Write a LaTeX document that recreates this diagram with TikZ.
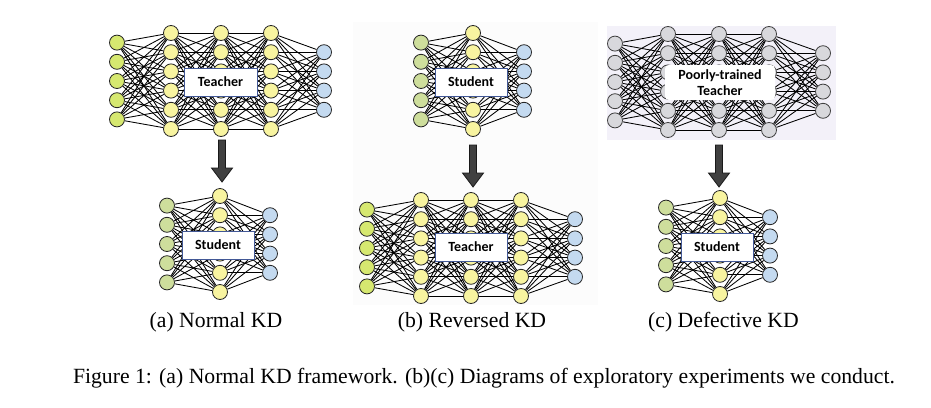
\documentclass[tikz,border=0pt]{standalone}
\usepackage{fontspec}
\setmainfont{Liberation Serif}
\newfontfamily\boxfont{Carlito}
\pgfdeclarelayer{bg}\pgfdeclarelayer{edges}\pgfdeclarelayer{fg}
\pgfsetlayers{bg,edges,main,fg}
\definecolor{ingreen}{RGB}{214,232,112}
\definecolor{insgreen}{RGB}{206,222,156}
\definecolor{hidyel}{RGB}{248,244,160}
\definecolor{outblue}{RGB}{196,218,240}
\definecolor{neurgrey}{RGB}{216,216,220}
\definecolor{boxblue}{RGB}{66,88,150}
\definecolor{lav}{RGB}{243,241,249}
\definecolor{pale}{RGB}{252,252,252}
\definecolor{arrfill}{RGB}{64,64,64}
\tikzset{
  neuron/.style={circle,draw=black!85,line width=0.8pt,minimum size=15pt,inner sep=0pt},
  inT/.style={fill=ingreen},
  inS/.style={fill=insgreen},
  hid/.style={fill=hidyel},
  outp/.style={fill=outblue},
  gry/.style={fill=neurgrey,draw=black!75},
  synapse/.style={draw=black,line width=0.85pt},
  labelbox/.style={draw=boxblue,line width=0.9pt,fill=white,minimum width=72pt,minimum height=28pt,inner sep=0pt,font=\boxfont\bfseries\fontsize{14}{15}\selectfont},
  softbox/.style={fill=white,rounded corners=4pt,minimum width=110pt,minimum height=35pt,inner sep=0pt,align=center,font=\boxfont\bfseries\fontsize{14}{16}\selectfont},
  bigarrow/.style={fill=arrfill,draw=black!90,line width=0.8pt,line join=miter},
  subcap/.style={font=\fontsize{21.7}{25}\selectfont,inner sep=0pt},
  figcap/.style={font=\fontsize{21.7}{25}\selectfont,inner sep=0pt}
}
\newcommand{\mynet}[3]{%
 \foreach \xx/\nn/\sty [count=\li, remember=\nn as \pn (initially 0)] in {#3} {%
   \foreach \k in {1,...,\nn} {%
     \node[neuron,\sty] (#1-\li-\k) at (\xx,{#2+(\k-(\nn+1)/2)*19.2}) {};
   }%
   \ifnum\li>1
     \pgfmathtruncatemacro\pl{\li-1}%
     \begin{pgfonlayer}{edges}
       \foreach \a in {1,...,\pn} {\foreach \b in {1,...,\nn} {\draw[synapse] (#1-\pl-\a) -- (#1-\li-\b);}}
     \end{pgfonlayer}
   \fi
 }%
}
\newcommand{\blockarrow}[1]{%
  \draw[bigarrow] (#1) ++(-3.5,0) -- ++(7,0) -- ++(0,28) -- ++(7,0) -- ++(-10.5,14) -- ++(-10.5,-14) -- ++(7,0) -- cycle;
}
\begin{document}
\begin{tikzpicture}[x=1pt,y=-1pt]
\useasboundingbox (0,0) rectangle (931,407);
\begin{pgfonlayer}{bg}
  \fill[white] (0,0) rectangle (931,407);
  \fill[pale] (353,22) rectangle (598,305);
  \fill[lav] (607,26) rectangle (836,140);
\end{pgfonlayer}

% (a) Normal KD
\mynet{ta}{81}{117/5/inT,171/6/hid,221/6/hid,271/6/hid,324/4/outp}
\mynet{sa}{244}{167/5/inS,220/6/hid,270/4/outp}
% (b) Reversed KD
\mynet{sb}{81}{421/5/inS,473/6/hid,524/4/outp}
\mynet{tb}{248}{367/5/inT,421/6/hid,471/6/hid,521/6/hid,575/4/outp}
% (c) Defective KD
\mynet{tc}{82}{615/5/gry,668/6/gry,719/6/gry,769/6/gry,823/4/gry}
\mynet{sc}{246}{666/5/inS,720/6/hid,770/4/outp}

\begin{pgfonlayer}{fg}
  \node[labelbox,minimum width=73pt] (taBox) at (220.5,82) {Teacher};
  \node[labelbox] (saBox) at (218,245) {Student};
  \node[labelbox] (sbBox) at (471,82) {Student};
  \node[labelbox] (tbBox) at (471,247) {Teacher};
  \node[softbox] (tcBox) at (720,82.5) {Poorly-trained\\Teacher};
  \node[labelbox] (scBox) at (717,247) {Student};
\end{pgfonlayer}

\coordinate (arA) at (222,140);
\coordinate (arB) at (473,145);
\coordinate (arC) at (719,145);
\blockarrow{arA}
\blockarrow{arB}
\blockarrow{arC}

\node[subcap] (capA) at (216,322) {(a) Normal KD};
\node[subcap] (capB) at (472,322) {(b) Reversed KD};
\node[subcap] (capC) at (723.5,322) {(c) Defective KD};
\node[figcap] (figCap) at (484,378) {Figure 1: (a) Normal KD framework. (b)(c) Diagrams of exploratory experiments we conduct.};
\end{tikzpicture}
\end{document}
